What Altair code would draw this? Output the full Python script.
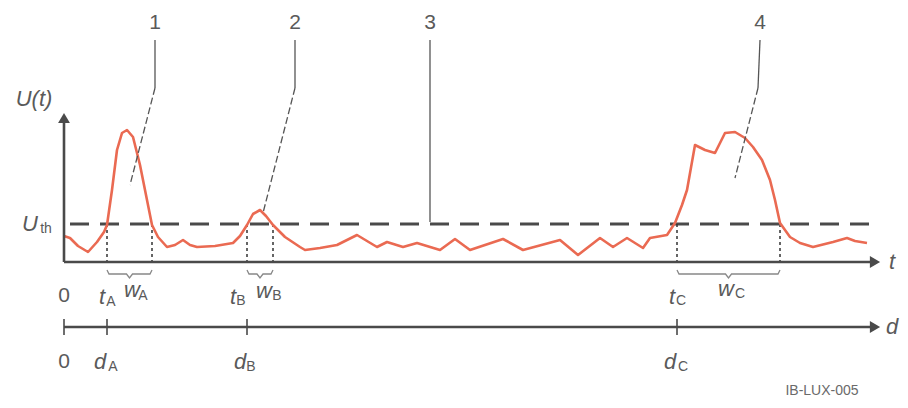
import altair as alt
import pandas as pd

# ---- coordinate frame: t to the right of the U axis, U above the t axis ----
# signal trace U(t)
sig_px = [64, 70, 78, 88, 97, 104, 107, 112, 117, 122, 127, 133, 140, 147, 152, 158, 167, 175, 183, 190,
          197, 215, 233, 240, 247, 253, 260, 266, 273, 285, 300, 305, 320, 337, 357, 377, 387, 403, 417, 440,
          455, 470, 503, 523, 560, 578, 600, 613, 627, 643, 650, 667, 675, 682, 687, 695, 705, 715, 725, 735,
          745, 753, 762, 770, 775, 780, 790, 800, 813, 833, 847, 855, 867]
sig_py = [236, 238, 246, 252, 242, 232, 225, 190, 150, 133, 130, 137, 165, 200, 225, 237, 247, 245, 240, 245,
          247, 246, 243, 236, 225, 214, 210, 216, 225, 237, 247, 250, 248, 245, 235, 247, 242, 247, 243, 250,
          239, 250, 239, 250, 240, 255, 238, 247, 238, 248, 238, 235, 223, 205, 190, 145, 150, 153, 133, 132,
          138, 147, 160, 180, 200, 223, 237, 243, 247, 242, 238, 241, 243]
T0, U0 = 64, 262
sig_t = [p - T0 for p in sig_px]
sig_u = [U0 - p for p in sig_py]

U_TH = 38              # threshold level
T_END = 816            # end of axes
D_LEVEL = -65          # level of the distance axis
cross_t = [43, 88, 183, 209, 613, 716]   # threshold crossings
pulse_start = [43, 183, 613]
pulse_end = [88, 209, 716]
d_ticks = [0, 43, 183, 613]

# labels
main_text = ["U(t)", "U", "t", "d", "t", "w", "t", "w", "t", "w", "d", "d", "d"]
main_t = [-30, -34, 828, 828, 38, 68, 169, 200, 608, 662, 36, 176, 606]
main_u = [163, 38, 0, D_LEVEL, -35, -28, -35, -29, -35, -27, -100, -100, -100]
sub_text = ["th", "A", "A", "B", "B", "C", "C", "A", "B", "C"]
sub_t = [-18, 47, 79, 177, 213, 617, 676, 49, 187, 619]
sub_u = [33, -40, -34, -39, -34, -39, -32, -105, -105, -105]
plain_text = ["0", "0", "1", "2", "3", "4"]
plain_t = [0, 0, 91, 231, 366, 696]
plain_u = [-34, -100, 239, 239, 239, 239]

# leader lines (solid part then dashed part)
lead_id = ["1", "1", "2", "2", "3", "3", "4", "4"]
lead_t = [91, 91, 231, 231, 366, 366, 696, 694]
lead_u = [222, 174, 222, 174, 222, 40, 222, 174]
dash_id = ["1", "1", "2", "2", "4", "4"]
dash_t = [91, 66, 231, 199, 694, 671]
dash_u = [174, 77, 174, 49, 174, 84]

X = alt.X("t:Q", scale=alt.Scale(domain=[-56, 836]), axis=None)
Y = alt.Y("u:Q", scale=alt.Scale(domain=[-138, 254]), axis=None)
GREY = "#4a4a4a"
TXT = "#5a5a5a"
FONT = "Liberation Sans"

signal = alt.Chart(pd.DataFrame({"t": sig_t, "u": sig_u})).mark_line(
    color="#ea6a52", strokeWidth=2.6, strokeJoin="round").encode(x=X, y=Y)

thresh = alt.Chart(pd.DataFrame({"t": [6], "t2": [805], "u": [U_TH]})).mark_rule(
    color=GREY, strokeWidth=3, strokeDash=[19, 11]).encode(x=X, x2="t2:Q", y=Y)

axes_df = pd.DataFrame({"t": [0, 0, 0], "t2": [0, T_END - 8, T_END - 8],
                        "u": [0, 0, D_LEVEL], "u2": [142, 0, D_LEVEL]})
axes = alt.Chart(axes_df).mark_rule(color=GREY, strokeWidth=2.6).encode(x=X, x2="t2:Q", y=Y, y2="u2:Q")

heads_r = alt.Chart(pd.DataFrame({"t": [T_END - 5, T_END - 5], "u": [0, D_LEVEL]})).mark_point(
    shape="triangle-right", filled=True, size=140, color=GREY, opacity=1).encode(x=X, y=Y)
head_u = alt.Chart(pd.DataFrame({"t": [0], "u": [144]})).mark_point(
    shape="triangle-up", filled=True, size=140, color=GREY, opacity=1).encode(x=X, y=Y)

ticks = alt.Chart(pd.DataFrame({"t": d_ticks, "u": [D_LEVEL + 8] * 4, "u2": [D_LEVEL - 8] * 4})).mark_rule(
    color=GREY, strokeWidth=1.6).encode(x=X, y=Y, y2="u2:Q")

dots = alt.Chart(pd.DataFrame({"t": cross_t, "u": [U_TH] * 6, "u2": [0] * 6})).mark_rule(
    color="#333333", strokeWidth=1.5, strokeDash=[3, 3]).encode(x=X, y=Y, y2="u2:Q")

# curly braces under each pulse width
brace_rows = []
for i, (a, b) in enumerate(zip(pulse_start, pulse_end)):
    m = (a + b) / 2
    for k, (tt, uu) in enumerate([(a, -8), (a + 2, -12), (m - 3, -12), (m, -16), (m + 3, -12), (b - 2, -12), (b, -8)]):
        brace_rows.append({"b": i, "k": k, "t": tt, "u": uu})
braces = alt.Chart(pd.DataFrame(brace_rows)).mark_line(color="#888888", strokeWidth=1.3).encode(
    x=X, y=Y, detail="b:N", order="k:Q")

lead_df = pd.DataFrame({"id": lead_id, "t": lead_t, "u": lead_u, "k": list(range(len(lead_t)))})
leaders = alt.Chart(lead_df).mark_line(color="#555555", strokeWidth=1.3).encode(
    x=X, y=Y, detail="id:N", order="k:Q")
dash_df = pd.DataFrame({"id": dash_id, "t": dash_t, "u": dash_u, "k": list(range(len(dash_t)))})
dashed = alt.Chart(dash_df).mark_line(color="#555555", strokeWidth=1.3, strokeDash=[7, 3]).encode(
    x=X, y=Y, detail="id:N", order="k:Q")

mains = alt.Chart(pd.DataFrame({"t": main_t, "u": main_u, "s": main_text})).mark_text(
    font=FONT, fontSize=22, fontStyle="italic", color=TXT, baseline="middle", align="center").encode(
    x=X, y=Y, text="s:N")
subs = alt.Chart(pd.DataFrame({"t": sub_t, "u": sub_u, "s": sub_text})).mark_text(
    font=FONT, fontSize=14, color=TXT, baseline="middle", align="center").encode(x=X, y=Y, text="s:N")
plains = alt.Chart(pd.DataFrame({"t": plain_t, "u": plain_u, "s": plain_text})).mark_text(
    font=FONT, fontSize=21, color=TXT, baseline="middle", align="center").encode(x=X, y=Y, text="s:N")
code = alt.Chart(pd.DataFrame({"t": [758], "u": [-129], "s": ["IB-LUX-005"]})).mark_text(
    font=FONT, fontSize=14, color="#6a6a6a", baseline="middle", align="center").encode(x=X, y=Y, text="s:N")

chart = alt.layer(thresh, dots, signal, axes, heads_r, head_u, ticks, braces, leaders, dashed,
                  mains, subs, plains, code).properties(
    width=892, height=392, padding=0, autosize=alt.AutoSizeParams(type="none"),
    background="white").configure_view(stroke=None)

chart.save("out.html", embed_options={"renderer": "svg", "actions": False})
